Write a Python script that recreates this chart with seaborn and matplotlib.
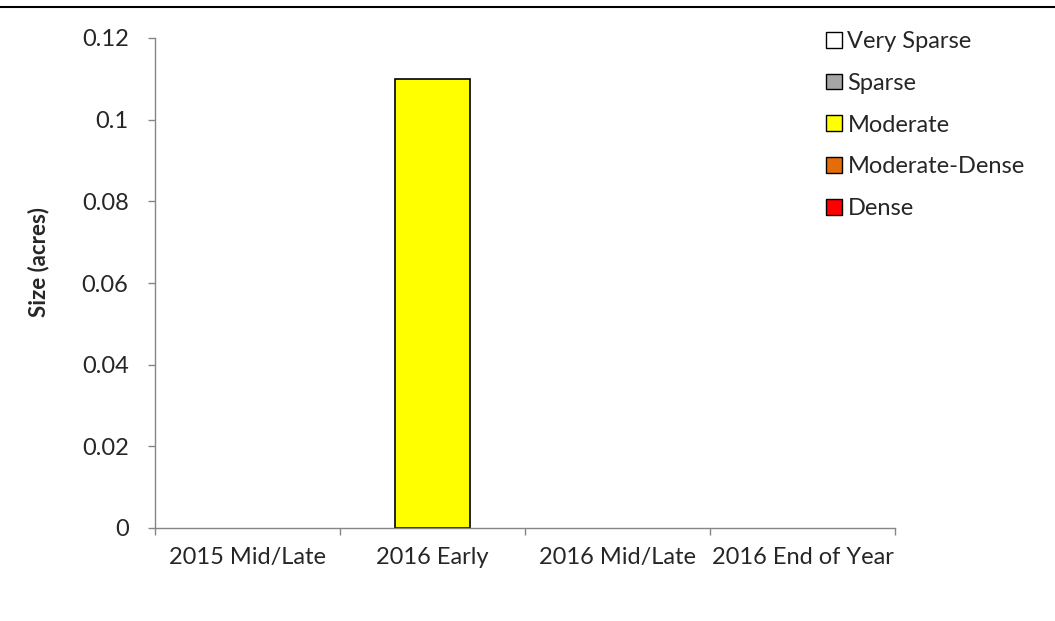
import numpy as np
import seaborn as sns
import matplotlib.pyplot as plt
from matplotlib.lines import Line2D
from matplotlib.patches import Patch

categories = ['2015 Mid/Late', '2016 Early', '2016 Mid/Late', '2016 End of Year']
series = ['Very Sparse', 'Sparse', 'Moderate', 'Moderate-Dense', 'Dense']
very_sparse = [0, 0, 0, 0]
sparse = [0, 0, 0, 0]
moderate = [0, 0.11, 0, 0]
moderate_dense = [0, 0, 0, 0]
dense = [0, 0, 0, 0]
colors = ['#FFFFFF', '#A6A6A6', '#FFFF00', '#E46C0A', '#FF0000']
y_ticks = [0, 0.02, 0.04, 0.06, 0.08, 0.1, 0.12]
y_tick_labels = ['0', '0.02', '0.04', '0.06', '0.08', '0.1', '0.12']

sns.set_style('white')
plt.rcParams['font.family'] = ['Lato', 'DejaVu Sans']

fig = plt.figure(figsize=(10.55, 6.21), dpi=100)
ax = fig.add_axes([155 / 1055, 1 - 528 / 621, 740 / 1055, 490 / 621])

bottom = np.zeros(len(categories))
for vals, col in zip([very_sparse, sparse, moderate, moderate_dense, dense], colors):
    sns.barplot(x=categories, y=vals, bottom=bottom, color=col, width=0.405,
                edgecolor='black', linewidth=1.2, saturation=1, ax=ax)
    bottom = bottom + np.array(vals)

# hide the outline of empty bars
for p in ax.patches:
    if p.get_height() == 0:
        p.set_linewidth(0)

ax.set_xlim(-0.5, 3.5)
ax.set_ylim(0, 0.12)
ax.set_yticks(y_ticks)
ax.set_yticklabels(y_tick_labels)
ax.set_xticks(np.arange(-0.5, 4, 1), minor=True)
ax.tick_params(axis='x', which='major', length=0, pad=14, labelsize=17)
ax.tick_params(axis='x', which='minor', length=5, width=1, color='#868686', direction='out', bottom=True)
ax.tick_params(axis='y', length=5, width=1, color='#868686', direction='out', left=True, labelsize=17, pad=14)

for s in ['top', 'right']:
    ax.spines[s].set_visible(False)
for s in ['left', 'bottom']:
    ax.spines[s].set_color('#868686')
    ax.spines[s].set_linewidth(1)

ax.set_ylabel('Size (acres)', fontsize=16, fontweight='bold')
ax.yaxis.set_label_coords(-0.143, 0.543)

handles = [Patch(facecolor=c, edgecolor='black', linewidth=1) for c in colors]
fig.legend(handles, series, loc='upper left', bbox_to_anchor=(826 / 1055, 1 - 31 / 621),
           frameon=False, fontsize=17, handlelength=0.66, handleheight=0.66,
           handletextpad=0.25, labelspacing=0.88, borderaxespad=0, borderpad=0)

fig.add_artist(Line2D([0, 1], [1 - 7 / 621, 1 - 7 / 621], color='black', linewidth=1.5,
                      transform=fig.transFigure))

fig.savefig('out.png', dpi=100)
